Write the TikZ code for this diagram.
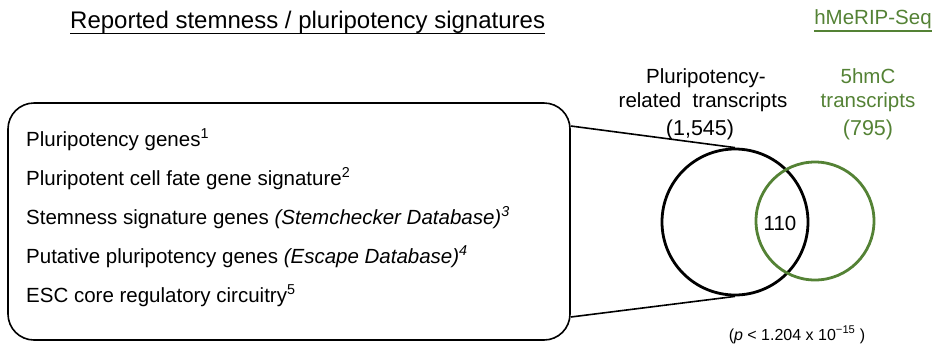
\documentclass[tikz,border=0pt]{standalone}
\usepackage{fontspec}
\setmainfont{Liberation Sans}
\definecolor{hmgreen}{RGB}{84,130,53}

\begin{document}
\begin{tikzpicture}[x=1pt,y=-1pt]
	 \tikzstyle{item}=[anchor=base west,inner sep=0pt,font=\fontsize{20.5}{20.5}\selectfont]
	 \tikzstyle{label}=[anchor=base,inner sep=0pt,font=\fontsize{20.5}{20.5}\selectfont]
	 \tikzstyle{set}=[draw,circle,line width=2.8pt]
	 \tikzstyle{edge}=[draw,line width=1.6pt,-,black]
	 \tikzstyle{rule}=[draw,line width=1.4pt]
	 \useasboundingbox (0,0) rectangle (940,349);
	 \node[anchor=base west,inner sep=0pt,font=\fontsize{24}{24}\selectfont] (head) at (70,28) {Reported stemness / pluripotency signatures\ };
	 \node[anchor=base,inner sep=0pt,font=\fontsize{20.5}{20.5}\selectfont,text=hmgreen] (seq) at (873,24.5) {hMeRIP-Seq};
	 \draw[rule] ([yshift=-5.5pt]head.base west) -- ([yshift=-5.5pt]head.base east);
	 \draw[rule,hmgreen] ([yshift=-6.5pt]seq.base west) -- ([yshift=-6.5pt]seq.base east);
	 \node[draw,line width=1.6pt,rounded corners=26pt,minimum width=562pt,minimum height=237pt] (sig) at (289,221.5) {};
	 \node[item] (s1) at (26,146.5) {Pluripotency genes\textsuperscript{1}};
	 \node[item] (s2) at (26,185.5) {Pluripotent cell fate gene signature\textsuperscript{2}};
	 \node[item] (s3) at (26,224) {Stemness signature genes \textit{(Stemchecker Database)\textsuperscript{3}}};
	 \node[item] (s4) at (26,263) {Putative pluripotency genes \textit{(Escape Database)\textsuperscript{4}}};
	 \node[item] (s5) at (26,302) {ESC core regulatory circuitry\textsuperscript{5}};
	 \node[set,minimum size=146pt] (ptc) at (735,222) {};
	 \node[set,minimum size=118pt,draw=hmgreen] (hmc) at (815,221) {};
	 \node[label] (ov) at (780,230) {110};
	 \node[label] (pt1) at (706,83) {Pluripotency-};
	 \node[label] (pt2) at (703,107) {related\ \ transcripts};
	 \node[label,font=\fontsize{21.5}{21.5}\selectfont] (ptn) at (700,135) {(1,545)};
	 \node[label,text=hmgreen] (hm1) at (868,83) {5hmC};
	 \node[label,text=hmgreen] (hm2) at (868,107) {transcripts};
	 \node[label,font=\fontsize{21.5}{21.5}\selectfont,text=hmgreen] (hmn) at (868,135) {(795)};
	 \node[anchor=base,inner sep=0pt,font=\fontsize{16}{16}\selectfont] (pv) at (797,340) {(\textit{p} < 1.204 x 10\textsuperscript{−15} )};
	 \draw[edge] ([yshift=95.5pt]sig.east) -- (ptc.north);
	 \draw[edge] ([yshift=-95.5pt]sig.east) -- (ptc.south);
\end{tikzpicture}
\end{document}
